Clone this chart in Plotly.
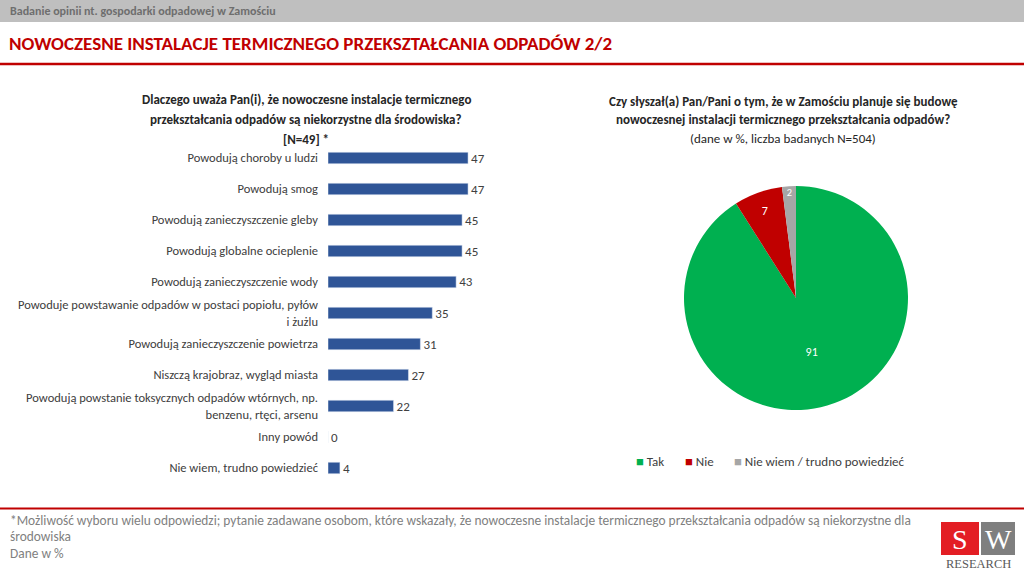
import plotly.graph_objects as go

# ---- data ----
bar_categories = [
    "Powodują choroby u ludzi",
    "Powodują smog",
    "Powodują zanieczyszczenie gleby",
    "Powodują globalne ocieplenie",
    "Powodują zanieczyszczenie wody",
    "Powoduje powstawanie odpadów w postaci popiołu, pyłów<br>i żużlu",
    "Powodują zanieczyszczenie powietrza",
    "Niszczą krajobraz, wygląd miasta",
    "Powodują powstanie toksycznych odpadów wtórnych, np.<br>benzenu, rtęci, arsenu",
    "Inny powód",
    "Nie wiem, trudno powiedzieć",
]
bar_values = [47, 47, 45, 45, 43, 35, 31, 27, 22, 0, 4]

pie_labels = ["Tak", "Nie", "Nie wiem / trudno powiedzieć"]
pie_values = [91, 7, 2]
pie_colors = ["#00B050", "#C00000", "#A6A6A6"]

FONT = "Carlito, Lato, sans-serif"
W, H = 1024, 576

def px_x(v):
    return v / W

def px_y(v):
    return 1 - v / H

fig = go.Figure()

fig.add_trace(go.Bar(
    y=bar_categories, x=bar_values, orientation="h",
    marker=dict(color="#2F5597"), width=0.37,
    text=[str(v) for v in bar_values], textposition="outside",
    constraintext="none",
    textfont=dict(size=13, color="#404040", family=FONT),
    cliponaxis=False, showlegend=False, hoverinfo="skip",
    xaxis="x", yaxis="y",
))

fig.add_trace(go.Pie(
    labels=pie_labels, values=pie_values,
    marker=dict(colors=pie_colors, line=dict(width=0)),
    sort=False, direction="clockwise", rotation=0,
    textinfo="value", textposition="inside", insidetextorientation="horizontal",
    insidetextfont=dict(color="white", size=12, family=FONT),
    domain=dict(x=[px_x(684), px_x(908)], y=[px_y(410), px_y(186)]),
    showlegend=False, hoverinfo="label+value",
))

top_px, bot_px = 142.5, 483.5
fig.update_layout(
    width=W, height=H,
    margin=dict(l=0, r=0, t=0, b=0),
    paper_bgcolor="white", plot_bgcolor="white",
    font=dict(family=FONT, color="#404040"),
    xaxis=dict(domain=[px_x(328), px_x(477)], range=[0, 50], visible=False),
    yaxis=dict(domain=[px_y(bot_px), px_y(top_px)], autorange="reversed",
               showgrid=False, showline=False, ticks="",
               tickfont=dict(size=12.5, color="#404040", family=FONT),
               ticklabelstandoff=9),
    showlegend=False,
)

shapes = [
    dict(type="rect", xref="paper", yref="paper", x0=0, x1=1, y0=px_y(22), y1=1,
         fillcolor="#BFBFBF", line=dict(width=0), layer="below"),
    dict(type="line", xref="paper", yref="paper", x0=0, x1=1, y0=px_y(64), y1=px_y(64),
         line=dict(color="#C00000", width=2.5)),
    dict(type="line", xref="paper", yref="paper", x0=0, x1=1, y0=px_y(508.5), y1=px_y(508.5),
         line=dict(color="#C00000", width=2)),
    dict(type="rect", xref="paper", yref="paper", x0=px_x(941), x1=px_x(979), y0=px_y(555), y1=px_y(522),
         fillcolor="#E31E24", line=dict(width=0)),
    dict(type="rect", xref="paper", yref="paper", x0=px_x(981), x1=px_x(1015), y0=px_y(555), y1=px_y(522),
         fillcolor="#7F7F7F", line=dict(width=0)),
]
fig.update_layout(shapes=shapes)

def ann(text, x, y, size, color, xanchor="left", yanchor="middle", bold=False, align="left", family=FONT):
    if bold:
        text = "<b>" + text + "</b>"
    fig.add_annotation(text=text, x=px_x(x), y=px_y(y), xref="paper", yref="paper",
                       xanchor=xanchor, yanchor=yanchor, showarrow=False, align=align,
                       font=dict(size=size, color=color, family=family))

ann("Badanie opinii nt. gospodarki odpadowej w Zamościu", 8, 11, 12, "#6E6E6E", bold=True)
ann("NOWOCZESNE INSTALACJE TERMICZNEGO PRZEKSZTAŁCANIA ODPADÓW 2/2", 7, 44, 19, "#C00000", bold=True)

# left chart title
left_title = ["Dlaczego uważa Pan(i), że nowoczesne instalacje termicznego",
              "przekształcania odpadów są niekorzystne dla środowiska?",
              "[N=49] *"]
for i, t in enumerate(left_title):
    ann(t, 306, 99 + 20 * i, 13, "#262626", xanchor="center", bold=True)

# right chart title
right_title = [("Czy słyszał(a) Pan/Pani o tym, że w Zamościu planuje się budowę", True),
               ("nowoczesnej instalacji termicznego przekształcania odpadów?", True),
               ("(dane w %, liczba badanych N=504)", False)]
for i, (t, b) in enumerate(right_title):
    ann(t, 783, 101 + 18.5 * i, 13, "#262626", xanchor="center", bold=b)

# legend (drawn as annotations)
legend_x = [636, 685, 734]
for lx, lab, col in zip(legend_x, pie_labels, pie_colors):
    ann("<span style='color:%s'>■</span> %s" % (col, lab), lx - 2, 461, 13, "#404040")

# footnote
foot = ["*Możliwość wyboru wielu odpowiedzi; pytanie zadawane osobom, które wskazały, że nowoczesne instalacje termicznego przekształcania odpadów są niekorzystne dla",
        "środowiska",
        "Dane w %"]
for i, t in enumerate(foot):
    ann(t, 8, 520 + 16.5 * i, 13.4, "#808080")

ann("S", 960, 539, 28, "white", xanchor="center", family="Liberation Serif, DejaVu Serif, serif")
ann("W", 998, 539, 28, "white", xanchor="center", family="Liberation Serif, DejaVu Serif, serif")
ann("RESEARCH", 978, 564, 12.5, "#595959", xanchor="center", family="Liberation Serif, DejaVu Serif, serif")

fig.write_html("out.html", config={"displayModeBar": False},
               post_script="document.body.style.margin='0';document.body.style.overflow='hidden';")
